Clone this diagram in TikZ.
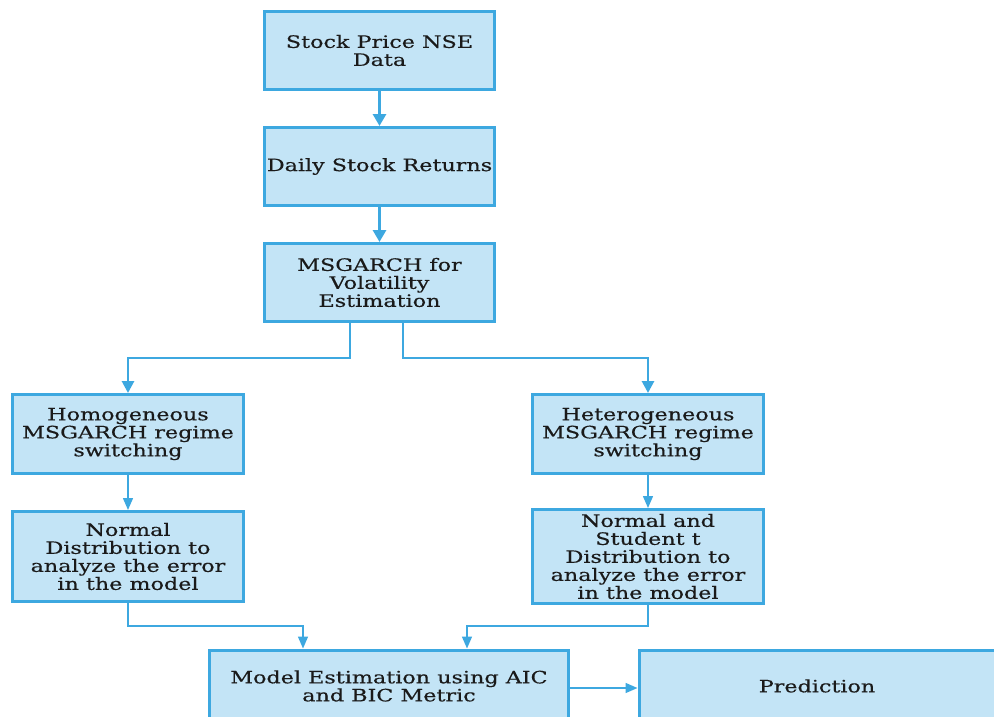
\documentclass[tikz,border=0pt]{standalone}
\usepackage{fontspec}
\setmainfont{DejaVu Serif}[FakeStretch=1.31, FakeBold=0.4]
\usetikzlibrary{arrows.meta}
\definecolor{boxfill}{HTML}{C3E4F6}
\definecolor{edgeblue}{HTML}{3DA8E0}
\definecolor{inkblack}{HTML}{1A1A1A}
\begin{document}
\begin{tikzpicture}[x=1pt,y=-1pt,
  flowbox/.style={draw=edgeblue, fill=boxfill, line width=3pt, align=center,
    inner sep=0pt, text=inkblack,
    font=\fontsize{17}{18}\selectfont},
  topbox/.style={flowbox, minimum width=230pt, minimum height=78pt},
  midbox/.style={flowbox, minimum width=231pt, minimum height=79pt},
  thickarrow/.style={draw=edgeblue, line width=3pt,
    -{Triangle[width=13pt,length=12pt]}},
  branch/.style={draw=edgeblue, line width=2.8pt,
    -{Triangle[width=12pt,length=12pt]}},
  thinarrow/.style={draw=edgeblue, line width=1.5pt,
    -{Triangle[width=10pt,length=12pt]}}]
\useasboundingbox (0,0) rectangle (994,717);

% main chain
\node[topbox] (data) at (379.5,50.5) {Stock Price NSE\\Data};
\node[topbox] (ret) at (379.5,166.5) {Daily Stock Returns};
\node[topbox] (msg) at (379.5,282.5) {MSGARCH for\\Volatility\\Estimation};

% two model branches
\node[midbox] (homo) at (128,434) {Homogeneous\\MSGARCH regime\\switching};
\node[midbox] (hetero) at (648,434) {Heterogeneous\\MSGARCH regime\\switching};
\node[midbox, minimum height=90pt] (normal) at (128,556.5) {Normal\\Distribution to\\analyze the error\\in the model};
\node[midbox, minimum height=94pt] (student) at (648,556.5) {Normal and\\Student t\\Distribution to\\analyze the error\\in the model};

% estimation and prediction
\node[flowbox, minimum width=359pt, minimum height=72pt] (est) at (389,686) {Model Estimation using AIC\\and BIC Metric};
\node[flowbox, minimum width=356pt, minimum height=72pt] (pred) at (817,686) {Prediction};

% connectors
\draw[thickarrow] (data.south) -- (ret.north);
\draw[thickarrow] (ret.south) -- (msg.north);
\draw[branch] ([xshift=-29.5pt]msg.south) -- ++(0,35) -| (homo.north);
\draw[branch] ([xshift=23.5pt]msg.south) -- ++(0,35) -| (hetero.north);
\draw[thinarrow] (homo.south) -- (normal.north);
\draw[thinarrow] (hetero.south) -- (student.north);
\draw[thinarrow] (normal.south) -- ++(0,23) -| ([xshift=-86pt]est.north);
\draw[thinarrow] (student.south) -- ++(0,21) -| ([xshift=78pt]est.north);
\draw[thinarrow] ([yshift=-2pt]est.east) -- ([yshift=-2pt]pred.west);
\end{tikzpicture}
\end{document}
